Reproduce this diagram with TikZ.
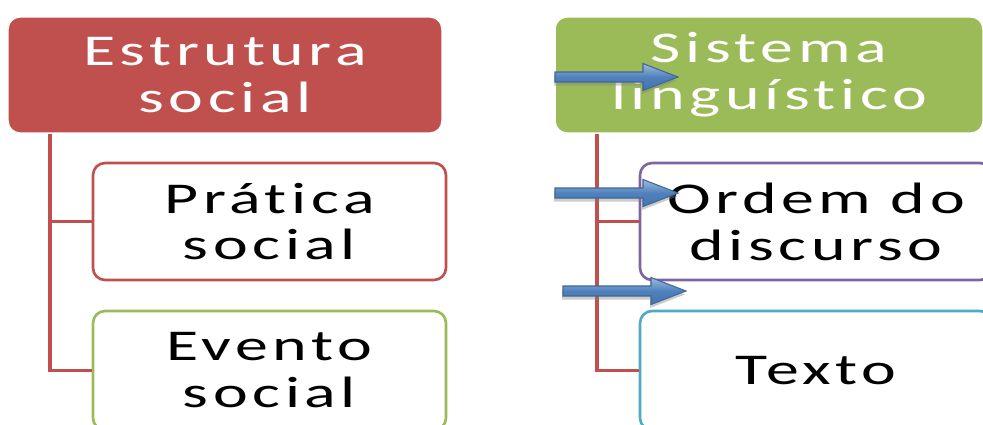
\documentclass[tikz,border=0pt]{standalone}
\usepackage{fontspec}
\setmainfont{Carlito}[Ligatures={NoCommon}, LetterSpace=7]
\usepackage{graphicx}
\usepackage{xcolor}
\usepackage{tikz}
\usetikzlibrary{shadows}
\definecolor{redAcc}{HTML}{C0504D}
\definecolor{greenAcc}{HTML}{9BBB59}
\definecolor{purpleAcc}{HTML}{8064A2}
\definecolor{cyanAcc}{HTML}{4BACC6}
\definecolor{blueAcc}{HTML}{4F81BD}
\newcommand{\wide}[1]{\scalebox{1.5}[1]{#1}}
\tikzset{ head_box/.style = {rectangle, rounded corners=0.24cm, draw=white, line width=0.8pt, text=white, align=center, font=\fontsize{25}{26.7}\selectfont} }
\tikzset{ item_box/.style = {rectangle, rounded corners=0.24cm, fill=white, line width=1.5pt, align=center, font=\fontsize{25}{26.7}\selectfont} }
\tikzset{ tree_line/.style = {draw=redAcc, line width=2.2pt} }
\tikzset{ block_arrow/.style = {draw=blueAcc!80!black, line width=0.6pt, top color=blueAcc!55!white, bottom color=blueAcc!90!black, middle color=blueAcc, drop shadow={shadow xshift=-0.02cm, shadow yshift=-0.07cm, opacity=0.4}} }
\newcommand{\blockarrow}[2]{%
  \path[block_arrow] (#1,#2-5) -- ++(88,0) -- ++(0,-8.5) -- ++(35,13.5) -- ++(-35,13.5) -- ++(0,-8.5) -- ++(-88,0) -- cycle;}

\begin{document}
\begin{tikzpicture}[x=0.02cm, y=-0.02cm]
    \path[use as bounding box] (0,0) rectangle (983,424);
    \clip (0,0) rectangle (983,424);
    % left column
    \node[head_box, fill=redAcc, minimum width=8.68cm, minimum height=2.32cm] (estrutura) at (225,75) {\wide{Estrutura}\\\wide{social}};
    \node[item_box, draw=redAcc, minimum width=7.06cm, minimum height=2.34cm] (pratica) at (269.5,221.5) {\wide{Prática}\\\wide{social}};
    \node[item_box, draw=greenAcc, minimum width=7.06cm, minimum height=2.38cm] (evento) at (269.5,370.5) {\wide{Evento}\\\wide{social}};
    \coordinate (ltrunk) at (50,0);
    \draw[tree_line] (ltrunk |- estrutura.south) |- (pratica.west);
    \draw[tree_line] (ltrunk |- estrutura.south) |- (evento.west);
    % right column
    \node[head_box, fill=greenAcc, minimum width=8.56cm, minimum height=2.32cm] (sistema) at (769,75) {\wide{Sistema}\\\wide{linguístico}};
    \node[item_box, draw=purpleAcc, minimum width=7.04cm, minimum height=2.34cm] (ordem) at (816,221.5) {\wide{Ordem do}\\\wide{discurso}};
    \node[item_box, draw=cyanAcc, minimum width=7.04cm, minimum height=2.38cm] (texto) at (816,370.5) {\wide{Texto}};
    \coordinate (rtrunk) at (597,0);
    \draw[tree_line] (rtrunk |- sistema.south) |- (ordem.west);
    \draw[tree_line] (rtrunk |- sistema.south) |- (texto.west);
    % arrows
    \blockarrow{555}{77}
    \blockarrow{555}{193}
    \blockarrow{563}{291}
\end{tikzpicture}
\end{document}
